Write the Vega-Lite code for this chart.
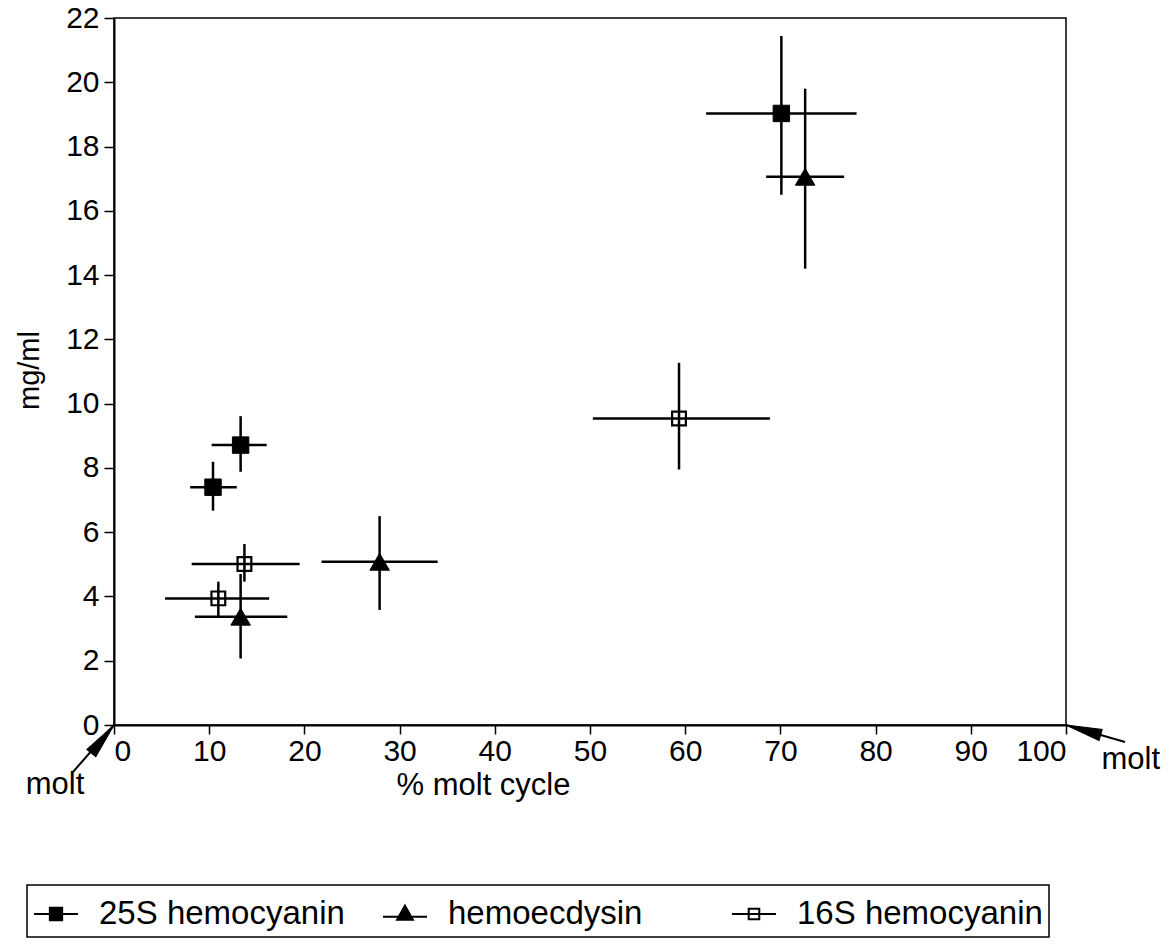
{
  "$schema": "https://vega.github.io/schema/vega-lite/v6.json",
  "width": 952,
  "height": 707,
  "autosize": {"type": "none"},
  "padding": {"left": 114, "top": 18, "right": 109, "bottom": 222},
  "background": "white",
  "config": {
    "font": "Liberation Sans",
    "view": {"stroke": "black", "strokeWidth": 1.5},
    "axis": {
      "domainColor": "black", "domainWidth": 2,
      "tickColor": "black", "tickWidth": 1.5, "tickSize": 9,
      "labelColor": "black", "labelFontSize": 30, "labelFont": "Liberation Sans",
      "titleColor": "black", "titleFontSize": 31, "titleFont": "Liberation Sans", "titleFontWeight": "normal",
      "grid": false
    },
    "legend": {
      "orient": "none", "legendX": -87, "legendY": 867,
      "direction": "horizontal", "columns": 3, "gridAlign": "all",
      "columnPadding": 34, "padding": 6, "labelLimit": 500,
      "strokeColor": "black", "strokeWidth": 1.5,
      "labelFontSize": 33, "labelColor": "black", "labelFont": "Liberation Sans", "labelOffset": 20,
      "symbolSize": 1936, "symbolStrokeColor": "black", "symbolStrokeWidth": 2, "symbolOpacity": 1
    }
  },
  "datasets": {
    "points": [
      {"series": "25S hemocyanin", "x": 10.4, "y": 7.4, "xlo": 8.0, "xhi": 12.9, "ylo": 6.67, "yhi": 8.19},
      {"series": "25S hemocyanin", "x": 13.3, "y": 8.71, "xlo": 10.26, "xhi": 16.04, "ylo": 7.88, "yhi": 9.61},
      {"series": "25S hemocyanin", "x": 70.1, "y": 19.03, "xlo": 62.2, "xhi": 78.0, "ylo": 16.5, "yhi": 21.44},
      {"series": "hemoecdysin", "x": 13.3, "y": 3.37, "xlo": 8.5, "xhi": 18.2, "ylo": 2.07, "yhi": 4.7},
      {"series": "hemoecdysin", "x": 27.9, "y": 5.08, "xlo": 21.8, "xhi": 34.0, "ylo": 3.58, "yhi": 6.5},
      {"series": "hemoecdysin", "x": 72.6, "y": 17.06, "xlo": 68.5, "xhi": 76.7, "ylo": 14.2, "yhi": 19.8},
      {"series": "16S hemocyanin", "x": 10.96, "y": 3.94, "xlo": 5.36, "xhi": 16.3, "ylo": 3.37, "yhi": 4.46},
      {"series": "16S hemocyanin", "x": 13.7, "y": 5.01, "xlo": 8.16, "xhi": 19.5, "ylo": 4.46, "yhi": 5.63},
      {"series": "16S hemocyanin", "x": 59.35, "y": 9.54, "xlo": 50.3, "xhi": 68.9, "ylo": 7.95, "yhi": 11.27}
    ],
    "notes": [
      {"side": "left", "label": "molt", "lx": -6.2, "ly": -1.87, "tx": -4.3, "ty": -1.46, "hx": 0, "hy": 0},
      {"side": "right", "label": "molt", "lx": 106.8, "ly": -1.09, "tx": 106.2, "ty": -0.53, "hx": 100, "hy": 0}
    ]
  },
  "layer": [
    {
      "data": {"name": "points"},
      "mark": {"type": "rule", "color": "black", "strokeWidth": 2.5},
      "encoding": {
        "x": {"field": "xlo", "type": "quantitative", "title": "% molt cycle", "scale": {"domain": [0, 100], "nice": false},
              "axis": {"values": [0,10,20,30,40,50,60,70,80,90,100], "labelPadding": 2,
                       "titleX": 369, "titleY": 60, "titleAlign": "center", "titleBaseline": "middle"}},
        "x2": {"field": "xhi"},
        "y": {"field": "y", "type": "quantitative", "title": "mg/ml", "scale": {"domain": [0, 22], "nice": false, "zero": false},
              "axis": {"values": [0,2,4,6,8,10,12,14,16,18,20,22], "labelPadding": 5, "tickSize": 10,
                       "titleX": -85, "titleY": 352, "titleAlign": "center", "titleBaseline": "middle", "titleAngle": -90, "titleFontSize": 29}}
      }
    },
    {
      "data": {"name": "points"},
      "mark": {"type": "rule", "color": "black", "strokeWidth": 2.5},
      "encoding": {
        "x": {"field": "x", "type": "quantitative", "title": "% molt cycle", "scale": {"domain": [0, 100], "nice": false}},
        "y": {"field": "ylo", "type": "quantitative", "title": "mg/ml", "scale": {"domain": [0, 22], "nice": false, "zero": false}},
        "y2": {"field": "yhi"}
      }
    },
    {
      "data": {"name": "points"},
      "transform": [{"filter": "datum.series === '25S hemocyanin'"}],
      "mark": {"type": "point", "shape": "square", "filled": true, "fill": "black", "stroke": "black", "strokeWidth": 1, "size": 270, "opacity": 1},
      "encoding": {
        "x": {"field": "x", "type": "quantitative", "title": "% molt cycle", "scale": {"domain": [0, 100], "nice": false}},
        "y": {"field": "y", "type": "quantitative", "title": "mg/ml", "scale": {"domain": [0, 22], "nice": false, "zero": false}}
      }
    },
    {
      "data": {"name": "points"},
      "transform": [{"filter": "datum.series === 'hemoecdysin'"}],
      "mark": {"type": "point", "shape": "triangle-up", "filled": true, "fill": "black", "stroke": "black", "strokeWidth": 1, "size": 380, "opacity": 1},
      "encoding": {
        "x": {"field": "x", "type": "quantitative", "title": "% molt cycle", "scale": {"domain": [0, 100], "nice": false}},
        "y": {"field": "y", "type": "quantitative", "title": "mg/ml", "scale": {"domain": [0, 22], "nice": false, "zero": false}}
      }
    },
    {
      "data": {"name": "points"},
      "transform": [{"filter": "datum.series === '16S hemocyanin'"}],
      "mark": {"type": "point", "shape": "square", "filled": false, "stroke": "black", "strokeWidth": 2.2, "size": 190, "opacity": 1},
      "encoding": {
        "x": {"field": "x", "type": "quantitative", "title": "% molt cycle", "scale": {"domain": [0, 100], "nice": false}},
        "y": {"field": "y", "type": "quantitative", "title": "mg/ml", "scale": {"domain": [0, 22], "nice": false, "zero": false}}
      }
    },
    {
      "data": {"name": "points"},
      "mark": {"type": "point", "filled": true, "strokeWidth": 2, "opacity": 0},
      "encoding": {
        "x": {"field": "x", "type": "quantitative", "title": "% molt cycle", "scale": {"domain": [0, 100], "nice": false}},
        "y": {"field": "y", "type": "quantitative", "title": "mg/ml", "scale": {"domain": [0, 22], "nice": false, "zero": false}},
        "shape": {"field": "series", "type": "nominal",
                  "scale": {"domain": ["25S hemocyanin", "hemoecdysin", "16S hemocyanin"],
                            "range": ["M-1,0H1M-0.28,-0.28H0.28V0.28H-0.28Z", "M-1,0.12H1M0,-0.38L0.36,0.26H-0.36Z", "M-1,0H1M-0.24,-0.24H0.24V0.24H-0.24Z"]},
                  "legend": {"title": null}},
        "fill": {"field": "series", "type": "nominal",
                 "scale": {"domain": ["25S hemocyanin", "hemoecdysin", "16S hemocyanin"], "range": ["black", "black", "transparent"]},
                 "legend": {"title": null}},
        "stroke": {"field": "series", "type": "nominal",
                 "scale": {"domain": ["25S hemocyanin", "hemoecdysin", "16S hemocyanin"], "range": ["black", "black", "black"]},
                 "legend": {"title": null}}
      }
    },
    {
      "data": {"name": "notes"},
      "mark": {"type": "rule", "color": "black", "strokeWidth": 2},
      "encoding": {
        "x": {"field": "tx", "type": "quantitative", "title": "% molt cycle", "scale": {"domain": [0, 100], "nice": false}},
        "y": {"field": "ty", "type": "quantitative", "title": "mg/ml", "scale": {"domain": [0, 22], "nice": false, "zero": false}},
        "x2": {"field": "hx"},
        "y2": {"field": "hy"}
      }
    },
    {
      "data": {"name": "notes"},
      "transform": [{"filter": "datum.side === 'left'"}],
      "mark": {"type": "point", "shape": "M0,0L0.32,2L-0.32,2Z", "filled": true, "fill": "black", "stroke": "black", "strokeWidth": 1, "size": 1300, "angle": 39, "opacity": 1},
      "encoding": {
        "x": {"field": "hx", "type": "quantitative", "title": "% molt cycle", "scale": {"domain": [0, 100], "nice": false}},
        "y": {"field": "hy", "type": "quantitative", "title": "mg/ml", "scale": {"domain": [0, 22], "nice": false, "zero": false}}
      }
    },
    {
      "data": {"name": "notes"},
      "transform": [{"filter": "datum.side === 'right'"}],
      "mark": {"type": "point", "shape": "M0,0L0.32,2L-0.32,2Z", "filled": true, "fill": "black", "stroke": "black", "strokeWidth": 1, "size": 1300, "angle": 286, "opacity": 1},
      "encoding": {
        "x": {"field": "hx", "type": "quantitative", "title": "% molt cycle", "scale": {"domain": [0, 100], "nice": false}},
        "y": {"field": "hy", "type": "quantitative", "title": "mg/ml", "scale": {"domain": [0, 22], "nice": false, "zero": false}}
      }
    },
    {
      "data": {"name": "notes"},
      "mark": {"type": "text", "fontSize": 31, "font": "Liberation Sans", "color": "black", "align": "center", "baseline": "middle"},
      "encoding": {
        "x": {"field": "lx", "type": "quantitative", "title": "% molt cycle", "scale": {"domain": [0, 100], "nice": false}},
        "y": {"field": "ly", "type": "quantitative", "title": "mg/ml", "scale": {"domain": [0, 22], "nice": false, "zero": false}},
        "text": {"field": "label"}
      }
    }
  ]
}
